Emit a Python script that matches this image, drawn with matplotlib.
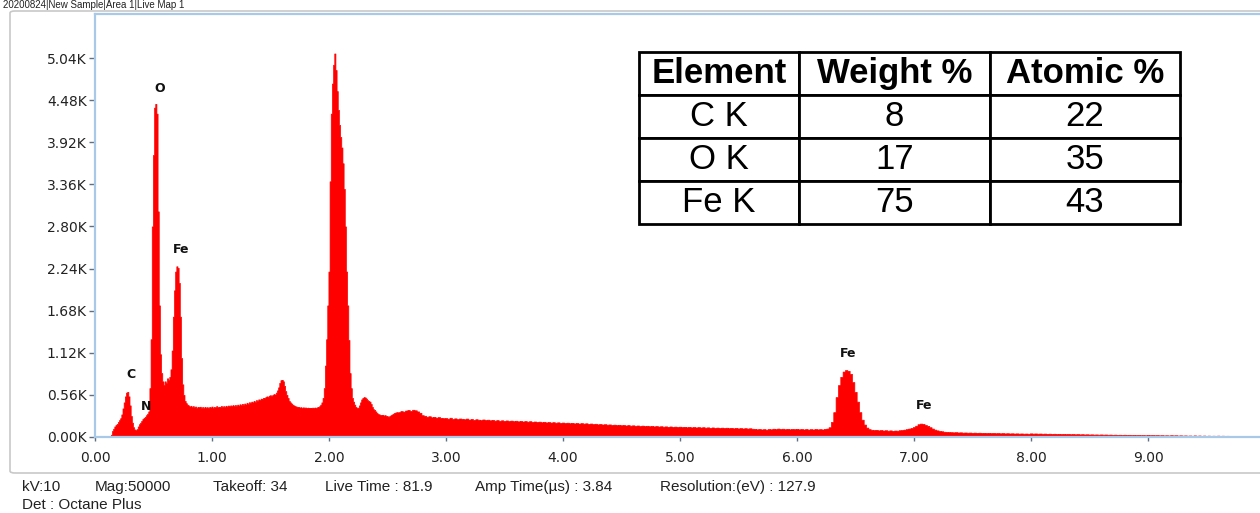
import numpy as np
import matplotlib.pyplot as plt
from matplotlib.patches import FancyBboxPatch

# EDS spectrum counts
# channels 0.10 - 2.59 keV, step 0.01
counts_low = [
    0, 0, 0, 0, 30, 80, 110, 140, 160, 175,
    200, 225, 250, 300, 380, 460, 540, 590, 600, 540,
    420, 280, 190, 130, 100, 90, 105, 140, 170, 190,
    215, 240, 255, 270, 290, 310, 340, 650, 1300, 2800,
    3750, 4380, 4430, 4300, 3000, 1750, 1100, 850, 740, 690,
    740, 720, 780, 760, 800, 900, 1150, 1600, 1950, 2200,
    2270, 2250, 2050, 1600, 1050, 700, 560, 480, 450, 430,
    420, 405, 415, 398, 410, 392, 405, 388, 400, 395,
    402, 388, 398, 385, 400, 390, 396, 384, 398, 392,
    405, 390, 400, 392, 410, 395, 402, 396, 412, 400,
    410, 398, 415, 404, 418, 406, 420, 410, 424, 412,
    425, 414, 430, 418, 435, 422, 440, 428, 445, 432,
    455, 440, 462, 450, 470, 460, 480, 468, 490, 478,
    500, 490, 510, 505, 520, 515, 530, 540, 535, 550,
    555, 545, 560, 570, 565, 590, 620, 660, 720, 755,
    760, 740, 680, 610, 560, 520, 480, 460, 445, 430,
    420, 410, 405, 398, 400, 392, 396, 388, 394, 390,
    392, 386, 390, 384, 388, 382, 390, 385, 392, 388,
    395, 400, 410, 430, 460, 520, 650, 950, 1300, 1750,
    2200, 3400, 4300, 4700, 4950, 5100, 4880, 4600, 4350, 4150,
    3990, 3850, 3640, 3300, 2800, 2200, 1750, 1290, 850, 650,
    520, 470, 430, 400, 385, 390, 420, 460, 500, 520,
    530, 525, 510, 490, 480, 470, 440, 400, 370, 360,
    340, 320, 305, 300, 292, 290, 295, 285, 290, 280,
    275, 270, 280, 290, 300, 310, 320, 325, 330, 328,
]
# channels 2.60 - 9.98 keV, step 0.02
counts_high = [
    330, 345, 338, 352, 360, 348, 362, 355, 340, 322,
    290, 282, 270, 276, 262, 268, 258, 264, 255, 250,
    252, 244, 256, 240, 248, 238, 246, 242, 236, 245,
    232, 240, 228, 236, 230, 224, 233, 226, 230, 222,
    228, 218, 225, 216, 222, 214, 220, 212, 218, 210,
    216, 208, 214, 206, 212, 204, 210, 202, 206, 200,
    204, 196, 202, 194, 199, 192, 197, 190, 195, 188,
    192, 186, 190, 183, 188, 181, 186, 179, 184, 178,
    182, 175, 179, 172, 176, 168, 173, 166, 170, 164,
    167, 160, 164, 158, 162, 156, 160, 153, 158, 151,
    155, 149, 153, 146, 151, 145, 149, 143, 147, 141,
    145, 139, 143, 137, 141, 135, 140, 134, 138, 133,
    137, 131, 135, 129, 134, 128, 132, 127, 131, 126,
    130, 124, 128, 122, 127, 121, 125, 120, 124, 119,
    123, 117, 121, 115, 120, 114, 118, 113, 117, 112,
    116, 110, 108, 102, 106, 100, 104, 98, 106, 102,
    110, 104, 112, 106, 110, 103, 108, 102, 107, 104,
    108, 102, 106, 100, 105, 99, 104, 100, 106, 101,
    104, 100, 108, 112, 130, 200, 330, 530, 690, 800,
    870, 890, 880, 840, 730, 600, 470, 330, 230, 165,
    125, 104, 96, 92, 95, 88, 92, 86, 90, 84,
    88, 82, 86, 84, 90, 92, 98, 104, 112, 120,
    132, 150, 170, 178, 174, 160, 148, 130, 112, 98,
    88, 80, 76, 70, 68, 66, 64, 62, 64, 60,
    62, 58, 60, 57, 59, 56, 58, 55, 57, 54,
    55, 52, 54, 51, 53, 50, 52, 49, 51, 48,
    50, 47, 49, 46, 48, 45, 47, 44, 46, 43,
    48, 45, 47, 44, 46, 43, 45, 42, 44, 41,
    43, 40, 42, 39, 41, 38, 40, 37, 39, 36,
    38, 35, 37, 34, 36, 33, 35, 32, 34, 31,
    34, 31, 33, 30, 32, 29, 31, 28, 30, 27,
    30, 27, 29, 26, 28, 25, 27, 24, 26, 23,
    27, 24, 26, 23, 25, 22, 24, 21, 23, 20,
    24, 21, 23, 19, 22, 18, 21, 17, 20, 16,
    21, 16, 20, 15, 19, 14, 18, 13, 17, 12,
    18, 12, 17, 11, 16, 10, 15, 9, 14, 9,
    15, 8, 14, 7, 13, 6, 12, 6, 11, 5,
]

# peak labels (energy keV, counts where the label sits)
peak_names = ['C', 'N', 'O', 'Fe', 'Fe', 'Fe']
peak_e = [0.31, 0.44, 0.555, 0.735, 6.44, 7.09]
peak_c = [825, 412, 4641, 2500, 1117, 425]

# axis ticks
x_ticks = [0, 1, 2, 3, 4, 5, 6, 7, 8, 9]
x_ticklabels = ['0.00', '1.00', '2.00', '3.00', '4.00', '5.00', '6.00', '7.00', '8.00', '9.00']
y_ticks = [0, 560, 1120, 1680, 2240, 2800, 3360, 3920, 4480, 5040]
y_ticklabels = ['0.00K', '0.56K', '1.12K', '1.68K', '2.24K', '2.80K', '3.36K', '3.92K', '4.48K', '5.04K']

# quantification table
table_header = ['Element', 'Weight %', 'Atomic %']
table_elements = ['C K', 'O K', 'Fe K']
table_weight = [8, 17, 75]
table_atomic = [22, 35, 43]

title_text = '20200824|New Sample|Area 1|Live Map 1'
footer_line1 = ['kV:10', 'Mag:50000', 'Takeoff: 34', 'Live Time : 81.9',
                'Amp Time(\u00b5s) : 3.84', 'Resolution:(eV) : 127.9']
footer_line2 = 'Det : Octane Plus'

# energy axis for the two channel ranges
e_low = 0.10 + 0.01 * np.arange(len(counts_low))
e_high = 2.60 + 0.02 * np.arange(len(counts_high))
energy = np.concatenate([e_low, e_high])
counts = np.concatenate([counts_low, counts_high])

W, H = 1260, 513
fig = plt.figure(figsize=(W / 100, H / 100), dpi=100)
fig.patch.set_facecolor('white')

# outer grey panel frame (drawn behind the axes)
frame = FancyBboxPatch((10 / W, 1 - 473 / H), 1.2, (473 - 11) / H,
                       boxstyle='round,pad=0,rounding_size=0.004',
                       transform=fig.transFigure, fc='none', ec='#c8c8c8',
                       lw=1.2, zorder=-1)
fig.patches.append(frame)

ax = fig.add_axes([95 / W, 1 - 437 / H, (W - 95) / W, 423 / H])
ax.set_facecolor('none')

# solid red spectrum, no antialiasing so the histogram stays crisp
ax.fill_between(energy, counts, step='mid', facecolor='#ff0000',
                edgecolor='#ff0000', lw=0.5, antialiased=False)

ax.set_xlim(0, (W - 95) / 117)
ax.set_ylim(0, 423 * 5040 / 379)

ax.set_xticks(x_ticks)
ax.set_xticklabels(x_ticklabels)
ax.set_yticks(y_ticks)
ax.set_yticklabels(y_ticklabels)
ax.tick_params(axis='x', length=3, width=1, color='#607080', pad=7,
               labelsize=10, labelcolor='#222222')
ax.tick_params(axis='y', length=4, width=1, color='#607080', pad=2,
               labelsize=10, labelcolor='#222222')

for side in ['left', 'top', 'bottom']:
    ax.spines[side].set_color('#a9c9e8')
    ax.spines[side].set_linewidth(1.6)
ax.spines['right'].set_visible(False)

for name, e, c in zip(peak_names, peak_e, peak_c):
    ax.text(e, c, name, ha='center', va='center', fontsize=9,
            fontweight='bold', color='#111111')

# table
rows = [[el, str(w), str(a)] for el, w, a in zip(table_elements, table_weight, table_atomic)]
tbl = ax.table(cellText=rows, colLabels=table_header, cellLoc='center',
               colWidths=[160, 191, 190],
               bbox=[544 / 1165, (437 - 224) / 423, 541 / 1165, 172 / 423])
tbl.auto_set_font_size(False)
for (r, col), cell in tbl.get_celld().items():
    cell.set_edgecolor('black')
    cell.set_linewidth(2.0)
    cell.set_facecolor('white')
    txt = cell.get_text()
    txt.set_fontfamily('Liberation Sans')
    txt.set_fontsize(25)
    if r == 0:
        txt.set_fontweight('bold')

# small title above the panel
fig.text(3 / W, 1 - 8 / H, title_text, fontsize=7, family='Liberation Sans',
         va='baseline', ha='left', color='#222222')

# acquisition footer
footer_x = [22, 95, 213, 325, 475, 660]
for s, x in zip(footer_line1, footer_x):
    fig.text(x / W, 1 - 487 / H, s, fontsize=11, family='Liberation Sans',
             va='center', ha='left', color='#222222')
fig.text(22 / W, 1 - 505 / H, footer_line2, fontsize=11, family='Liberation Sans',
         va='center', ha='left', color='#222222')

fig.savefig('out.png', dpi=100, facecolor='white')
